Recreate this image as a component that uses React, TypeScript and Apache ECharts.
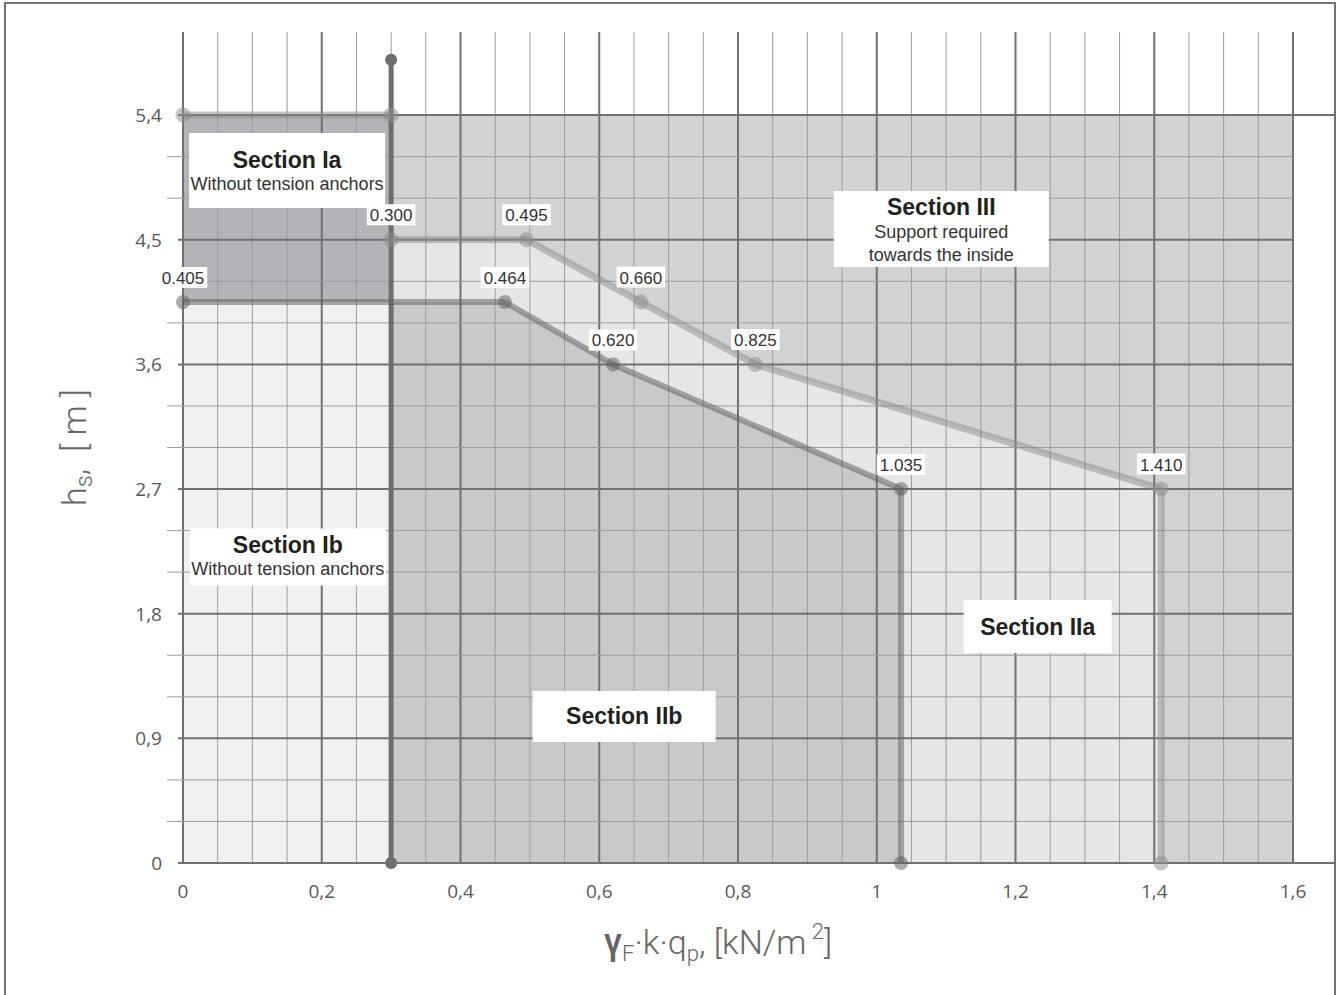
import React, { useEffect, useRef } from 'react';
import * as echarts from 'echarts';

// ---------------- data ----------------
const xAxisTicks = [0, 0.2, 0.4, 0.6, 0.8, 1, 1.2, 1.4, 1.6];
const yAxisTicks = [0, 0.9, 1.8, 2.7, 3.6, 4.5, 5.4];
const xMinorStep = 0.05;
const yMinorStep = 0.3;
const yTop = 6.0;

const anchorLineX = [0.3, 0.3];
const anchorLineY = [0, 5.8];

const capLineX = [0, 0.3];
const capLineY = [5.4, 5.4];

const lowerX = [0, 0.464, 0.62, 1.035, 1.035];
const lowerY = [4.05, 4.05, 3.6, 2.7, 0];
const lowerLabels = ['0.405', '0.464', '0.620', '1.035', ''];

const upperX = [0.3, 0.495, 0.66, 0.825, 1.41, 1.41];
const upperY = [4.5, 4.5, 4.05, 3.6, 2.7, 0];
const upperLabels = ['0.300', '0.495', '0.660', '0.825', '1.410', ''];

const sectionTitles = ['Section Ia', 'Section Ib', 'Section III', 'Section IIa', 'Section IIb'];
const sectionNotes = [['Without tension anchors'], ['Without tension anchors'], ['Support required', 'towards the inside'], [], []];

// ---------------- layout / style ----------------
const sectionAnchor = [[0.15, 5.0], [0.151, 2.21], [1.093, 4.577], [1.232, 1.707], [0.636, 1.058]];
const sectionBox = [
  { w: 196, pad: [13, 0, 13, 0] },
  { w: 196, pad: [4, 0, 5, 0] },
  { w: 215, pad: [3, 0, 1, 0] },
  { w: 148, pad: [13, 0, 13, 0] },
  { w: 183, pad: [12, 0, 12, 0] },
];
const regionColors = ['#b3b4b7', '#f0f1f3', '#d1d2d4', '#e5e6e8', '#c8c9cb'];
const MAJOR = '#707174';
const MINOR = '#9c9da0';
const ANNOT_FONT = '"Liberation Sans", Arial, sans-serif';
const TICK_FONT = '"Open Sans", sans-serif';
const NAME_FONT = 'Roboto, "Open Sans", sans-serif';

const round = (v: number) => Math.round(v * 1000) / 1000;
const isMult = (v: number, s: number) => Math.abs(v / s - Math.round(v / s)) < 1e-6;

export default function App() {
  const ref = useRef<HTMLDivElement>(null);

  useEffect(() => {
    if (!ref.current) return;
    const chart = echarts.init(ref.current, undefined, { renderer: 'svg' });

    const xMax = xAxisTicks[xAxisTicks.length - 1];
    const yCap = capLineY[0];
    const xSplit = anchorLineX[0];
    const yMajorStep = yAxisTicks[1];
    const xMajorStep = xAxisTicks[1];

    // grid line specs (axis ticks)
    const gridSpecs: { dir: 'v' | 'h'; v: number; major: boolean }[] = [];
    for (let i = 0; round(i * xMinorStep) <= xMax + 1e-9; i++) {
      const v = round(i * xMinorStep);
      gridSpecs.push({ dir: 'v', v, major: isMult(v, xMajorStep) });
    }
    for (let i = 0; round(i * yMinorStep) <= yCap + 1e-9; i++) {
      const v = round(i * yMinorStep);
      gridSpecs.push({ dir: 'h', v, major: isMult(v, yMajorStep) });
    }

    const lowerPts = lowerX.map((x, i) => [x, lowerY[i]]);
    const upperPts = upperX.map((x, i) => [x, upperY[i]]);
    const lowerRight = lowerPts.filter((p) => p[0] > xSplit);
    const regions = [
      [[0, lowerY[0]], [xSplit, lowerY[0]], [xSplit, yCap], [0, yCap]],
      [[0, 0], [xSplit, 0], [xSplit, lowerY[0]], [0, lowerY[0]]],
      [...upperPts, [xMax, 0], [xMax, yCap], [xSplit, yCap]],
      [[xSplit, lowerY[0]], ...lowerRight, ...upperPts.slice().reverse()],
      [[xSplit, 0], ...lowerRight.slice().reverse(), [xSplit, lowerY[0]]],
    ];

    const fmt = (v: number) => String(Math.round(v * 10) / 10).replace('.', ',');

    const valueLabel = {
      position: 'top',
      distance: 7,
      backgroundColor: '#ffffff',
      padding: [3, 3, 1, 3],
      color: '#333333',
      fontSize: 17,
      opacity: 1,
      fontFamily: ANNOT_FONT,
    };

    const option: any = {
      animation: false,
      grid: { left: 183, right: 45, top: 32, bottom: 132, containLabel: false },
      xAxis: {
        type: 'value',
        min: 0,
        max: xMax,
        interval: xMajorStep,
        axisLine: { show: false },
        axisTick: { show: false },
        splitLine: { show: false },
        axisLabel: { margin: 18, fontSize: 19, color: '#595959', fontFamily: TICK_FONT, formatter: (v: number) => fmt(v) },
        name: '{g|γ}{sub|F}{m|·k·q}{sub|p}{m|, [kN/m}{sup| 2}{m|]}',
        nameLocation: 'middle',
        nameGap: 57,
        nameTextStyle: {
          padding: [0, 40, 0, 0],
          rich: {
            g: { fontSize: 36, fontFamily: NAME_FONT, fontWeight: 500, color: '#666', lineHeight: 44, verticalAlign: 'middle' },
            m: { fontSize: 34, fontFamily: NAME_FONT, fontWeight: 300, color: '#666', lineHeight: 44, verticalAlign: 'middle' },
            sub: { fontSize: 22, fontFamily: NAME_FONT, fontWeight: 300, color: '#666', lineHeight: 24, verticalAlign: 'bottom' },
            sup: { fontSize: 22, fontFamily: NAME_FONT, fontWeight: 300, color: '#666', lineHeight: 28, verticalAlign: 'top' },
          },
        },
      },
      yAxis: {
        type: 'value',
        min: 0,
        max: yTop,
        interval: yMajorStep,
        axisLine: { show: false },
        axisTick: { show: false },
        splitLine: { show: false },
        axisLabel: {
          margin: 21,
          fontSize: 19,
          color: '#595959',
          fontFamily: TICK_FONT,
          showMaxLabel: false,
          formatter: (v: number) => (v > yCap + 1e-6 ? '' : fmt(v)),
        },
        name: '{m|h}{sub|s}{m|,  [ m ]}',
        nameLocation: 'middle',
        nameGap: 87,
        nameTextStyle: {
          rich: {
            m: { fontSize: 34, fontFamily: NAME_FONT, fontWeight: 300, color: '#666', lineHeight: 44, verticalAlign: 'middle' },
            sub: { fontSize: 24, fontFamily: NAME_FONT, fontWeight: 300, color: '#666', lineHeight: 28, verticalAlign: 'bottom' },
          },
        },
      },
      graphic: [
        {
          type: 'rect',
          silent: true,
          z: 100,
          shape: { x: 5, y: 3, width: 1330, height: 1010 },
          style: { fill: 'none', stroke: '#737373', lineWidth: 2 },
        },
      ],
      series: [
        {
          type: 'custom',
          name: 'regions',
          z: 1,
          silent: true,
          data: regions.map(() => [0, 0]),
          renderItem: (params: any, api: any) => {
            const poly = regions[params.dataIndex];
            return {
              type: 'polygon',
              shape: { points: poly.map((p) => api.coord(p)) },
              style: { fill: regionColors[params.dataIndex], stroke: 'none' },
            };
          },
        },
        {
          type: 'custom',
          name: 'grid',
          z: 2,
          silent: true,
          data: gridSpecs.map(() => [0, 0]),
          renderItem: (params: any, api: any) => {
            const g = gridSpecs[params.dataIndex];
            if (g.dir === 'v') {
              const a = api.coord([g.v, 0]);
              const b = api.coord([g.v, yTop]);
              return {
                type: 'line',
                shape: { x1: a[0], y1: a[1], x2: b[0], y2: b[1] },
                style: { stroke: g.major ? MAJOR : MINOR, lineWidth: g.major ? 2 : 1 },
              };
            }
            const a = api.coord([0, g.v]);
            const b = api.coord([xMax, g.v]);
            const left = g.major ? 5 : 16;
            const right = g.v === 0 || Math.abs(g.v - yCap) < 1e-6 ? 43 : 0;
            return {
              type: 'line',
              shape: { x1: a[0] - left, y1: a[1], x2: b[0] + right, y2: b[1] },
              style: { stroke: g.major ? MAJOR : MINOR, lineWidth: g.major ? 2 : 1 },
            };
          },
        },
        {
          type: 'line',
          name: 'anchor',
          z: 3,
          clip: false,
          silent: true,
          emphasis: { disabled: true },
          symbol: 'circle',
          symbolSize: 12,
          data: anchorLineX.map((x, i) => [x, anchorLineY[i]]),
          lineStyle: { color: '#6d6e71', width: 5 },
          itemStyle: { color: '#6d6e71' },
        },
        {
          type: 'line',
          name: 'lower',
          z: 4,
          clip: false,
          silent: true,
          emphasis: { disabled: true },
          symbol: 'circle',
          symbolSize: 14,
          data: lowerX.map((x, i) => ({ value: [x, lowerY[i]], label: { show: lowerLabels[i] !== '' } })),
          lineStyle: { color: 'rgba(95,96,99,0.52)', width: 6 },
          itemStyle: { color: 'rgba(95,96,99,0.52)', opacity: 1 },
          label: { ...valueLabel, formatter: (p: any) => lowerLabels[p.dataIndex] },
        },
        {
          type: 'line',
          name: 'cap',
          z: 5,
          clip: false,
          silent: true,
          emphasis: { disabled: true },
          symbol: 'circle',
          symbolSize: 15,
          data: capLineX.map((x, i) => [x, capLineY[i]]),
          lineStyle: { color: 'rgba(138,139,142,0.5)', width: 7 },
          itemStyle: { color: 'rgba(138,139,142,0.5)', opacity: 1 },
        },
        {
          type: 'line',
          name: 'upper',
          z: 5,
          clip: false,
          silent: true,
          emphasis: { disabled: true },
          symbol: 'circle',
          symbolSize: 15,
          data: upperX.map((x, i) => ({ value: [x, upperY[i]], label: { show: upperLabels[i] !== '' } })),
          lineStyle: { color: 'rgba(138,139,142,0.5)', width: 7 },
          itemStyle: { color: 'rgba(138,139,142,0.5)', opacity: 1 },
          label: { ...valueLabel, formatter: (p: any) => upperLabels[p.dataIndex] },
        },
        {
          type: 'scatter',
          name: 'sections',
          z: 10,
          silent: true,
          emphasis: { disabled: true },
          symbolSize: 1,
          itemStyle: { color: '#ffffff', opacity: 1 },
          data: sectionTitles.map((t, i) => ({
            value: sectionAnchor[i],
            label: {
              show: true,
              position: 'inside',
              opacity: 1,
              backgroundColor: '#ffffff',
              width: sectionBox[i].w,
              padding: sectionBox[i].pad,
              formatter: [`{t|${t}}`, ...sectionNotes[i].map((n) => `{s|${n}}`)].join('\n'),
              rich: {
                t: { fontSize: 23, fontWeight: 'bold', fontFamily: ANNOT_FONT, color: '#231f20', lineHeight: i === 1 || i === 2 ? 26 : 27, align: 'center' },
                s: { fontSize: 18, fontFamily: ANNOT_FONT, color: '#333333', lineHeight: i === 2 ? 23 : 22, align: 'center' },
              },
            },
          })),
        },
      ],
    };

    chart.setOption(option);
    return () => chart.dispose();
  }, []);

  return <div ref={ref} style={{ position: 'absolute', left: 0, top: 0, width: 1338, height: 995, background: '#fff' }} />;
}
